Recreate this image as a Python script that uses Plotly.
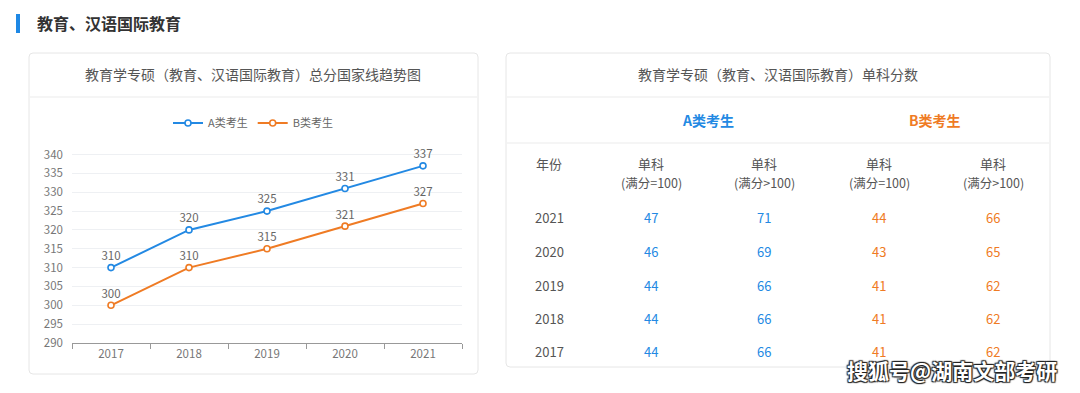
import plotly.graph_objects as go

# ---------------- data ----------------
years = ["2017", "2018", "2019", "2020", "2021"]
score_a = [310, 320, 325, 331, 337]
score_b = [300, 310, 315, 321, 327]
series_names = ["A类考生", "B类考生"]

table_years = ["2021", "2020", "2019", "2018", "2017"]
a_eq100 = [47, 46, 44, 44, 44]
a_gt100 = [71, 69, 66, 66, 66]
b_eq100 = [44, 43, 41, 41, 41]
b_gt100 = [66, 65, 62, 62, 62]
col_headers = ["单科<br>(满分=100)", "单科<br>(满分>100)", "单科<br>(满分=100)", "单科<br>(满分>100)"]

section_title = "教育、汉语国际教育"
chart_title = "教育学专硕（教育、汉语国际教育）总分国家线趋势图"
table_title = "教育学专硕（教育、汉语国际教育）单科分数"
watermark = "搜狐号@湖南文部考研"

# ---------------- style ----------------
W, H = 1080, 393
BLUE = "#2389e3"
ORANGE = "#ef7b24"
FONT = "Noto Sans CJK SC"


def px(x):
    return x / W


def py(y):
    return 1 - y / H


fig = go.Figure()

fig.add_trace(go.Scatter(
    x=years, y=score_a, name=series_names[0], mode="lines+markers+text",
    line=dict(color=BLUE, width=2),
    marker=dict(symbol="circle", size=6, color="white", line=dict(color=BLUE, width=1.6)),
    text=[str(v) for v in score_a], textposition="top center",
    textfont=dict(size=11.5, color="#666", family=FONT), cliponaxis=False,
))
fig.add_trace(go.Scatter(
    x=years, y=score_b, name=series_names[1], mode="lines+markers+text",
    line=dict(color=ORANGE, width=2),
    marker=dict(symbol="circle", size=6, color="white", line=dict(color=ORANGE, width=1.6)),
    text=[str(v) for v in score_b], textposition="top center",
    textfont=dict(size=11.5, color="#666", family=FONT), cliponaxis=False,
))


def rounded_rect(x0, y0, x1, y1, r=4):
    X0, X1 = px(x0), px(x1)
    Y0, Y1 = py(y0), py(y1)
    rx, ry = r / W, r / H
    return (f"M {X0+rx},{Y0} L {X1-rx},{Y0} Q {X1},{Y0} {X1},{Y0-ry} "
            f"L {X1},{Y1+ry} Q {X1},{Y1} {X1-rx},{Y1} L {X0+rx},{Y1} "
            f"Q {X0},{Y1} {X0},{Y1+ry} L {X0},{Y0-ry} Q {X0},{Y0} {X0+rx},{Y0} Z")


shapes = [
    # section bar
    dict(type="rect", xref="paper", yref="paper", x0=px(16), x1=px(20), y0=py(33), y1=py(14),
         fillcolor="#1e88e5", line=dict(width=0)),
    # left card
    dict(type="path", xref="paper", yref="paper", path=rounded_rect(29, 53, 478, 374),
         fillcolor="white", line=dict(color="#e6e6e6", width=1), layer="below"),
    dict(type="line", xref="paper", yref="paper", x0=px(30), x1=px(477), y0=py(97), y1=py(97),
         line=dict(color="#ebebeb", width=1)),
    # right card
    dict(type="path", xref="paper", yref="paper", path=rounded_rect(506, 53, 1050, 367),
         fillcolor="white", line=dict(color="#e6e6e6", width=1), layer="below"),
    dict(type="line", xref="paper", yref="paper", x0=px(507), x1=px(1049), y0=py(97), y1=py(97),
         line=dict(color="#ebebeb", width=1)),
    dict(type="line", xref="paper", yref="paper", x0=px(507), x1=px(1049), y0=py(143), y1=py(143),
         line=dict(color="#ebebeb", width=1)),
]

ann = []
ann.append(dict(text=section_title, x=px(35), y=py(23), xanchor="left", yanchor="middle",
                font=dict(size=16, color="#333", family=FONT, weight="bold")))
ann.append(dict(text=chart_title, x=px(253), y=py(74), xanchor="center", yanchor="middle",
                font=dict(size=14, color="#555", family=FONT)))
ann.append(dict(text=table_title, x=px(778), y=py(74), xanchor="center", yanchor="middle",
                font=dict(size=14, color="#555", family=FONT)))
ann.append(dict(text=series_names[0], x=px(708), y=py(120), xanchor="center", yanchor="middle",
                font=dict(size=14, color=BLUE, family=FONT, weight="bold")))
ann.append(dict(text=series_names[1], x=px(935), y=py(120), xanchor="center", yanchor="middle",
                font=dict(size=14, color=ORANGE, family=FONT, weight="bold")))

# table header
col_x = [651, 764, 879, 993]
ann.append(dict(text="年份", x=px(549), y=py(164), xanchor="center", yanchor="middle",
                font=dict(size=13, color="#555", family=FONT)))
for cx, h in zip(col_x, col_headers):
    top, bottom = h.split("<br>")
    ann.append(dict(text=top, x=px(cx), y=py(163), xanchor="center", yanchor="middle",
                    font=dict(size=13, color="#555", family=FONT)))
    ann.append(dict(text=bottom, x=px(cx), y=py(182), xanchor="center", yanchor="middle",
                    font=dict(size=12.5, color="#555", family=FONT)))

row_y = [217, 251, 285, 318, 351]
cols = [(a_eq100, BLUE), (a_gt100, BLUE), (b_eq100, ORANGE), (b_gt100, ORANGE)]
for i, ry in enumerate(row_y):
    ann.append(dict(text=table_years[i], x=px(549), y=py(ry), xanchor="center", yanchor="middle",
                    font=dict(size=13, color="#555", family=FONT)))
    for cx, (vals, c) in zip(col_x, cols):
        ann.append(dict(text=str(vals[i]), x=px(cx), y=py(ry), xanchor="center", yanchor="middle",
                        font=dict(size=13, color=c, family=FONT)))

ann.append(dict(text=watermark, x=px(1059), y=py(370), xanchor="right", yanchor="middle",
                font=dict(size=21, color="white", family=FONT, weight="bold",
                          shadow="1px 1px 1px #222, -1px -1px 1px #222, 1px -1px 1px #222, -1px 1px 1px #222")))

for a in ann:
    a.update(xref="paper", yref="paper", showarrow=False)

fig.update_layout(
    width=W, height=H, margin=dict(l=0, r=0, t=0, b=0, autoexpand=False),
    paper_bgcolor="white", plot_bgcolor="white",
    font=dict(family=FONT),
    shapes=shapes, annotations=ann,
    showlegend=True,
    legend=dict(orientation="h", x=px(253), y=py(123), xanchor="center", yanchor="middle",
                font=dict(size=11, color="#666", family=FONT), itemwidth=30,
                bgcolor="rgba(0,0,0,0)"),
    xaxis=dict(domain=[px(72), px(462)], type="category", tickson="boundaries",
               ticks="outside", ticklen=5, tickcolor="#999", showline=True, linecolor="#999",
               linewidth=1, showgrid=False, tickfont=dict(size=11.5, color="#777", family=FONT),
               range=[-0.5, 4.5], fixedrange=True, automargin=False),
    yaxis=dict(domain=[py(343), py(147)], range=[290, 342], dtick=5, tick0=290,
               showgrid=True, gridcolor="#eef0f3", gridwidth=1, zeroline=False,
               showline=False, ticks="", ticklabelstandoff=8, automargin=False,
               tickfont=dict(size=11.5, color="#777", family=FONT), fixedrange=True),
)

fig.write_html(
    "out.html",
    config={"displayModeBar": False},
    post_script="document.body.style.margin='0';document.body.style.padding='0';"
                "document.documentElement.style.overflow='hidden';",
)
